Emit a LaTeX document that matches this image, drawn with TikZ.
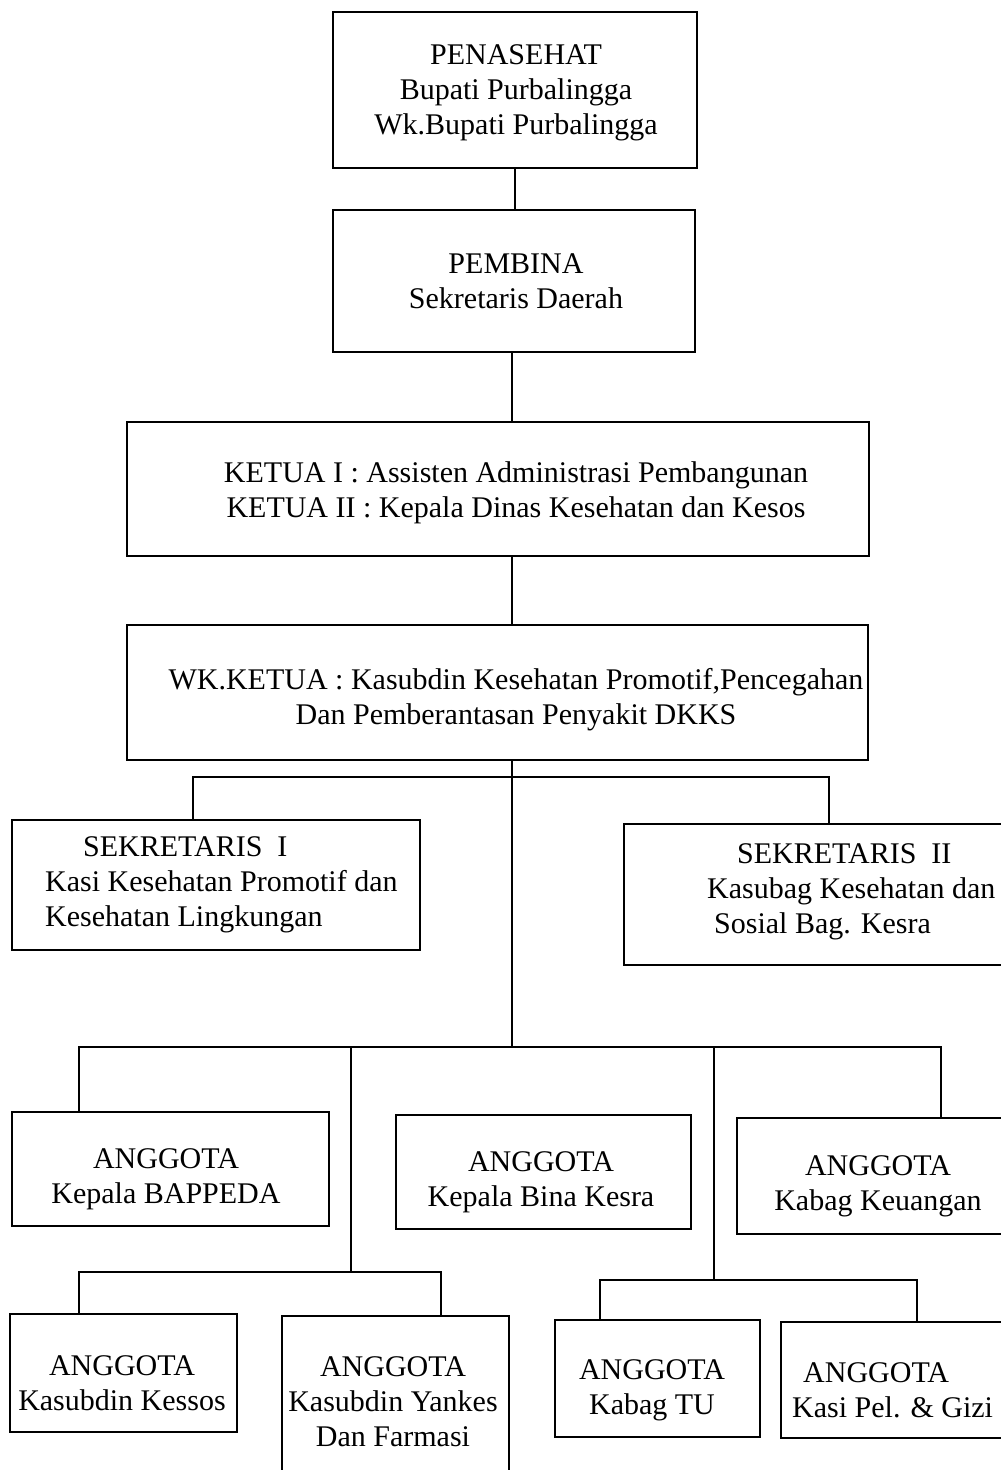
\documentclass[tikz,border=0pt]{standalone}
\usepackage{fontspec}
\setmainfont{Liberation Serif}
\begin{document}
\begin{tikzpicture}[x=1pt,y=-1pt,
  box/.style={draw=black, line width=1.7pt, rectangle, inner sep=0pt, outer sep=0pt},
  conn/.style={draw=black, line width=1.3pt},
  txt/.style={inner sep=0pt, align=center, font=\fontsize{30}{35}\selectfont}]
\clip (0,0) rectangle (1001,1470);
\fill[white] (0,0) rectangle (1001,1470);
% boxes
\node[box, minimum width=364, minimum height=156] (pen) at (515,90) {};
\node[box, minimum width=362, minimum height=142] (pem) at (514,281) {};
\node[box, minimum width=742, minimum height=134] (ket) at (498,489) {};
\node[box, minimum width=741, minimum height=135] (wk) at (497.5,692.5) {};
\node[box, minimum width=408, minimum height=130] (s1) at (216,885) {};
\node[box, minimum width=390, minimum height=141] (s2) at (819,894.5) {};
\node[box, minimum width=317, minimum height=114] (a1) at (170.5,1169) {};
\node[box, minimum width=295, minimum height=114] (a2) at (543.5,1172) {};
\node[box, minimum width=273, minimum height=116] (a3) at (873.5,1176) {};
\node[box, minimum width=227, minimum height=118] (a4) at (123.5,1373) {};
\node[box, minimum width=227, minimum height=170] (a5) at (395.5,1401) {};
\node[box, minimum width=205, minimum height=117] (a6) at (657.5,1378.5) {};
\node[box, minimum width=229, minimum height=116] (a7) at (895.5,1380) {};
% texts
\node[txt] (pent) at (516,93) {PENASEHAT\\Bupati Purbalingga\\Wk.Bupati Purbalingga};
\node[txt] (pemt) at (516,281) {PEMBINA\\Sekretaris Daerah};
\node[txt] (kett) at (516,493) {KETUA I : Assisten Administrasi Pembangunan\\KETUA II : Kepala Dinas Kesehatan dan Kesos};
\node[txt] (wkt) at (516,700) {WK.KETUA : Kasubdin Kesehatan Promotif,Pencegahan\\Dan Pemberantasan Penyakit DKKS};
\node[txt, align=left, anchor=west] (s1t) at (45,885) {\hspace*{38pt}SEKRETARIS\ \ I\\Kasi Kesehatan Promotif dan\\Kesehatan Lingkungan};
\node[txt, align=left, anchor=west] (s2t) at (707,892) {\hspace*{30pt}SEKRETARIS\ \ II\\Kasubag Kesehatan dan\\\hspace*{7pt}Sosial Bag. Kesra};
\node[txt] (a1t) at (166,1179) {ANGGOTA\\Kepala BAPPEDA};
\node[txt] (a2t) at (541,1182) {ANGGOTA\\Kepala Bina Kesra};
\node[txt] (a3t) at (878,1186) {ANGGOTA\\Kabag Keuangan};
\node[txt] (a4t) at (122,1383) {ANGGOTA\\Kasubdin Kessos};
\node[txt] (a5t) at (393,1402) {ANGGOTA\\Kasubdin Yankes\\Dan Farmasi};
\node[txt] (a6t) at (652,1390) {ANGGOTA\\Kabag TU};
\node[txt, align=left, anchor=west] (a7t) at (792,1390) {\hspace*{11pt}ANGGOTA\\Kasi Pel. \& Gizi};
% junction coordinates
\coordinate (busA) at (512,777);
\coordinate (busB) at (512,1047);
\coordinate (d1) at (193,777);
\coordinate (d2) at (829,777);
\coordinate (e1) at (79,1047);
\coordinate (e2) at (941,1047);
\coordinate (e3) at (351,1047);
\coordinate (e4) at (714,1047);
\coordinate (f1) at (79,1272);
\coordinate (f2) at (441,1272);
\coordinate (f3) at (351,1272);
\coordinate (g1) at (600,1280);
\coordinate (g2) at (917,1280);
\coordinate (g3) at (714,1280);
% connectors
\draw[conn] (pen.south) -- (pen.south |- pem.north);
\draw[conn] (pem.south -| busA) -- (ket.north -| busA);
\draw[conn] (ket.south -| busA) -- (wk.north -| busA);
\draw[conn] (wk.south -| busA) -- (busB);
\draw[conn] (s1.north -| d1) -- (d1) -- (d2) -- (s2.north -| d2);
\draw[conn] (a1.north -| e1) -- (e1) -- (e2) -- (a3.north -| e2);
\draw[conn] (e3) -- (f3);
\draw[conn] (e4) -- (g3);
\draw[conn] (a4.north -| f1) -- (f1) -- (f2) -- (a5.north -| f2);
\draw[conn] (a6.north -| g1) -- (g1) -- (g2) -- (a7.north -| g2);
\end{tikzpicture}
\end{document}
